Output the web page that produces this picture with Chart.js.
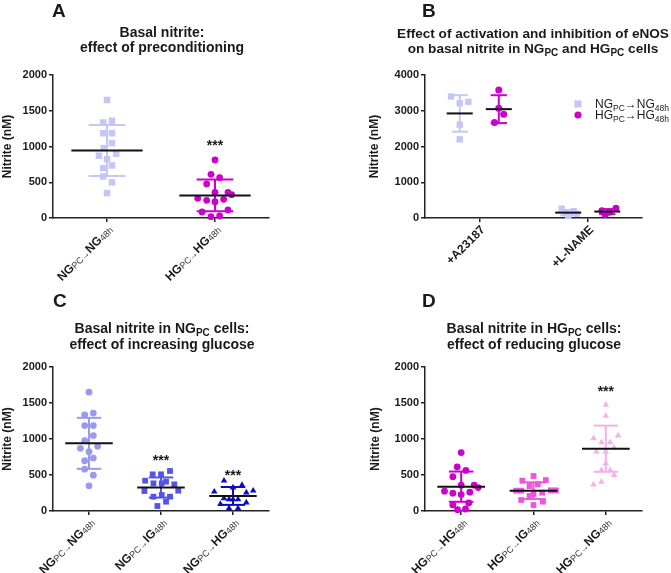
<!DOCTYPE html>
<html>
<head>
<meta charset="utf-8">
<script src="https://cdn.jsdelivr.net/npm/chart.js@4.4.1/dist/chart.umd.min.js"></script>
<style>
  html, body { margin:0; padding:0; background:#ffffff; }
  #fig { position:relative; width:671px; height:573px; overflow:hidden; background:#fff; }
  #fig canvas { position:absolute; }
</style>
</head>
<body>
<div id="fig">
  <canvas id="cA" width="336" height="288" style="left:0;top:0;width:336px;height:288px"></canvas>
  <canvas id="cB" width="335" height="288" style="left:336px;top:0;width:335px;height:288px"></canvas>
  <canvas id="cC" width="336" height="285" style="left:0;top:288px;width:336px;height:285px"></canvas>
  <canvas id="cD" width="335" height="285" style="left:336px;top:288px;width:335px;height:285px"></canvas>
</div>
<script>
// ================= DATA =================
const yTicks2000 = [0, 500, 1000, 1500, 2000];
const yTicks4000 = [0, 1000, 2000, 3000, 4000];

// ---- Panel A ----
const titleA = ['Basal nitrite:', 'effect of preconditioning'];
const catsA = ['NG_{PC\u2192}NG_{48h}', 'HG_{PC\u2192}HG_{48h}'];
const A_NG    = [1650, 1360, 1335, 1186, 1186, 1047, 977, 870, 898, 823, 735, 698, 581, 498, 349];
const A_NG_dx = [0, 0.046, -0.035, -0.035, 0.046, 0.046, -0.03, -0.075, 0.085, 0, 0.046, -0.035, -0.035, 0.046, 0];
const A_HG    = [811, 611, 564, 476, 359, 359, 326, 275, 247, 228, 261, 84, 112, 19, 28];
const A_HG_dx = [0, -0.037, 0.043, -0.077, 0, 0.12, 0.154, -0.16, -0.077, 0, 0.08, -0.12, 0.12, -0.037, 0.043];
const A_mean = [944, 316];
const A_sd   = [356, 222];
const A_sig  = ['', '***'];
const A_sigY = [null, 1045];

// ---- Panel B ----
const titleB = ['Effect of activation and inhibition of eNOS', 'on basal nitrite in NG_{PC} and HG_{PC} cells'];
const catsB = ['+A23187', '+L-NAME'];
const legendB = ['NG_{PC}\u2192NG_{48h}', 'HG_{PC}\u2192HG_{48h}'];
const B_NG_A23187    = [3400, 3210, 3250, 2610, 2200];
const B_NG_A23187_dx = [-0.08, 0, 0.08, 0, 0];
const B_HG_A23187    = [3580, 3070, 2900, 2670];
const B_HG_A23187_dx = [0, 0, 0.045, -0.04];
const B_NG_LNAME     = [260, 190, 150, 120, 60];
const B_NG_LNAME_dx  = [-0.06, 0.05, -0.02, 0.08, 0];
const B_HG_LNAME     = [270, 200, 160, 100];
const B_HG_LNAME_dx  = [0.08, -0.05, 0.02, -0.02];
const B_NG_mean = [2925, 150];
const B_NG_sd   = [510, 75];
const B_HG_mean = [3045, 180];
const B_HG_sd   = [390, 70];

// ---- Panel C ----
const titleC = ['Basal nitrite in NG_{PC} cells:', 'effect of increasing glucose'];
const catsC = ['NG_{PC\u2192}NG_{48h}', 'NG_{PC\u2192}IG_{48h}', 'NG_{PC\u2192}HG_{48h}'];
const C_NG    = [1650, 1360, 1335, 1186, 1186, 1047, 977, 870, 898, 823, 735, 698, 581, 498, 349];
const C_NG_dx = [0, 0.06, -0.06, -0.06, 0.06, 0.06, -0.06, -0.12, 0.12, 0, 0.06, -0.06, -0.06, 0.06, 0];
const C_IG    = [556, 509, 509, 421, 407, 384, 384, 370, 278, 282, 222, 199, 199, 130, 69];
const C_IG_dx = [0.125, -0.116, 0, -0.22, 0.07, -0.105, 0.01, 0.185, -0.23, 0.24, 0.01, -0.105, 0.125, 0.07, -0.05];
const C_HG    = [421, 361, 324, 268, 282, 255, 176, 162, 162, 162, 97, 116, 37, 37];
const C_HG_dx = [-0.125, 0.125, 0, -0.26, 0.28, 0.185, -0.125, -0.055, 0, 0.07, -0.175, 0.185, -0.055, 0.07];
const C_mean = [940, 326, 209];
const C_sd   = [354, 140, 124];
const C_sig  = ['', '***', '***'];
const C_sigY = [null, 736, 528];

// ---- Panel D ----
const titleD = ['Basal nitrite in HG_{PC} cells:', 'effect of reducing glucose'];
const catsD = ['HG_{PC\u2192}HG_{48h}', 'HG_{PC\u2192}IG_{48h}', 'HG_{PC\u2192}NG_{48h}'];
const D_HG    = [811, 611, 564, 476, 359, 359, 326, 275, 247, 228, 261, 84, 112, 19, 28];
const D_HG_dx = [0, -0.055, 0.065, -0.115, 0, 0.18, 0.235, -0.23, -0.115, 0, 0.12, -0.115, 0.105, -0.05, 0.06];
const D_IG    = [486, 421, 430, 347, 370, 282, 282, 287, 287, 236, 254, 208, 153, 130, 83];
const D_IG_dx = [0, -0.155, 0.17, -0.055, 0.06, -0.24, -0.17, 0.24, 0.31, 0, 0.12, -0.055, -0.17, 0.13, 0];
const D_NG    = [1474, 1321, 1009, 1047, 953, 953, 823, 823, 879, 660, 567, 567, 498, 367, 405];
const D_NG_dx = [0, 0, -0.17, 0.17, -0.06, 0.06, -0.13, 0, 0.115, 0, -0.06, 0.06, 0.115, -0.17, -0.06];
const D_mean = [338, 282, 865];
const D_sd   = [210, 116, 321];
const D_sig  = ['', '', '***'];
const D_sigY = [null, null, 1694];

// ================= STYLE =================
const FONT = '"Liberation Sans", Arial, Helvetica, sans-serif';
const INK = '#1a1a1a';
const COL = {
  lav: '#c4c6f6', mag: '#cc00cc', c1: '#9999ef', c2: '#5454e8', c3: '#0b0bc6',
  pink: '#ee55dc', lpink: '#f4b2ea'
};
Chart.defaults.font.family = FONT;

function parseRich(str, big, small, dy, smallColor) {
  const segs = []; const re = /_\{([^}]*)\}/g; let last = 0, m;
  while ((m = re.exec(str))) {
    if (m.index > last) segs.push({ t: str.slice(last, m.index), font: big, dy: 0 });
    segs.push({ t: m[1], font: small, dy: dy, color: smallColor });
    last = re.lastIndex;
  }
  if (last < str.length) segs.push({ t: str.slice(last), font: big, dy: 0 });
  return segs;
}
function richWidth(ctx, segs) {
  let w = 0; segs.forEach(s => { ctx.font = s.font; w += ctx.measureText(s.t).width; }); return w;
}
function drawRich(ctx, segs, x, y, align) {
  const w = richWidth(ctx, segs);
  let cx = align === 'center' ? x - w / 2 : (align === 'right' ? x - w : x);
  ctx.textAlign = 'left';
  segs.forEach(s => {
    ctx.font = s.font; ctx.fillStyle = s.color || INK;
    ctx.fillText(s.t, cx, y + s.dy);
    cx += ctx.measureText(s.t).width;
  });
}
function seg(ctx, x1, y1, x2, y2) { ctx.beginPath(); ctx.moveTo(x1, y1); ctx.lineTo(x2, y2); ctx.stroke(); }
function marker(ctx, style, x, y, r, color) {
  ctx.fillStyle = color; ctx.beginPath();
  if (style === 'rect') { const h = r; ctx.rect(x - h, y - h, 2 * h, 2 * h); }
  else ctx.arc(x, y, r, 0, Math.PI * 2);
  ctx.fill();
}

function decor(P) {
  return {
    id: 'decor_' + P.canvas,
    afterDatasetsDraw(chart) {
      const ctx = chart.ctx, xs = chart.scales.x, ys = chart.scales.y;
      const X = v => xs.getPixelForValue(v), Y = v => ys.getPixelForValue(v);
      ctx.save(); ctx.lineCap = 'butt';
      P.series.forEach(s => s.groups.forEach((g, gi) => {
        const c = g.cat + s.off, m = s.mean[gi], d = s.sd[gi];
        ctx.strokeStyle = s.color; ctx.lineWidth = 2;
        seg(ctx, X(c), Y(m - d), X(c), Y(m + d));
        seg(ctx, X(c - P.capHalf), Y(m + d), X(c + P.capHalf), Y(m + d));
        seg(ctx, X(c - P.capHalf), Y(m - d), X(c + P.capHalf), Y(m - d));
        ctx.strokeStyle = '#111'; ctx.lineWidth = 2;
        seg(ctx, X(c - P.meanHalf), Y(m), X(c + P.meanHalf), Y(m));
      }));
      ctx.restore();
    },
    afterDraw(chart) {
      const ctx = chart.ctx, xs = chart.scales.x, ys = chart.scales.y, ca = chart.chartArea;
      ctx.save();
      ctx.textBaseline = 'alphabetic';
      // panel letter
      ctx.font = 'bold 19px ' + FONT; ctx.fillStyle = INK; ctx.textAlign = 'left';
      ctx.fillText(P.letter, P.letterPos[0], P.letterPos[1]);
      // title
      P.title.forEach((line, i) => {
        drawRich(ctx, parseRich(line, 'bold ' + P.titleSize + 'px ' + FONT, 'bold 10px ' + FONT, 3), P.titleX, P.titleY[i], 'center');
      });
      // y title
      ctx.save();
      ctx.translate(ca.left - P.yTitleOff, (ca.top + ca.bottom) / 2);
      ctx.rotate(-Math.PI / 2);
      ctx.font = 'bold 12px ' + FONT; ctx.textAlign = 'center'; ctx.textBaseline = 'middle'; ctx.fillStyle = INK;
      ctx.fillText('Nitrite (nM)', 0, 0);
      ctx.restore();
      // x tick labels (rotated)
      P.cats.forEach((lab, i) => {
        const px = xs.getPixelForValue(i), py = ca.bottom;
        ctx.save();
        ctx.translate(px + 4, py + 10);
        ctx.rotate(-Math.PI / 4);
        ctx.textBaseline = 'middle';
        drawRich(ctx, parseRich(lab, 'bold 12px ' + FONT, '9px ' + FONT, 1.5, '#333'), 0, 0, 'right');
        ctx.restore();
      });
      // significance marks
      if (P.sig) P.sig.forEach((t, i) => {
        if (!t) return;
        ctx.font = 'bold 14px ' + FONT; ctx.textAlign = 'center'; ctx.textBaseline = 'middle'; ctx.fillStyle = INK;
        ctx.fillText(t, xs.getPixelForValue(i), ys.getPixelForValue(P.sigY[i]) + 3);
      });
      // legend
      if (P.legend) {
        P.legend.items.forEach((lab, i) => {
          const s = P.series[i];
          marker(ctx, s.style, P.legend.x, P.legend.ys[i], 3.6, s.color);
          ctx.textBaseline = 'alphabetic';
          drawRich(ctx, parseRich(lab, '12px ' + FONT, '8.5px ' + FONT, 3), P.legend.textX, P.legend.ys[i] + 4, 'left');
        });
      }
      ctx.restore();
    }
  };
}

function makePanel(P) {
  const canvas = document.getElementById(P.canvas);
  const W = canvas.width, H = canvas.height;
  const YW = 50, XH = 10;
  const datasets = P.series.map(s => ({
    type: 'scatter',
    data: s.groups.flatMap(g => g.vals.map((v, i) => ({ x: g.cat + s.off + g.dx[i], y: v }))),
    pointStyle: s.style, pointRadius: s.r, pointHoverRadius: s.r,
    backgroundColor: s.color, borderColor: s.color, borderWidth: 0, clip: false
  }));
  const axisCommon = {
    border: { display: true, color: '#222', width: 1.5 },
    grid: { display: true, drawOnChartArea: false, drawTicks: true, tickLength: 4, color: '#222', lineWidth: 1.5 }
  };
  return new Chart(canvas, {
    type: 'scatter',
    data: { datasets },
    options: {
      responsive: false, animation: false, events: [], devicePixelRatio: 1,
      layout: { padding: { left: P.area.l - YW, right: W - P.area.r, top: P.area.t, bottom: H - P.area.b - XH } },
      plugins: { legend: { display: false }, tooltip: { enabled: false } },
      scales: {
        x: Object.assign({
          type: 'linear', min: -0.5, max: P.cats.length - 0.5,
          afterBuildTicks: sc => { sc.ticks = P.cats.map((c, i) => ({ value: i })); },
          afterFit: sc => { sc.height = XH; },
          ticks: { display: false }
        }, axisCommon),
        y: Object.assign({
          type: 'linear', min: 0, max: P.yTicks[P.yTicks.length - 1],
          afterBuildTicks: sc => { sc.ticks = P.yTicks.map(v => ({ value: v })); },
          afterFit: sc => { sc.width = YW; },
          ticks: { font: { family: FONT, size: 11, weight: 'bold' }, color: INK, padding: 2, callback: v => String(v) }
        }, axisCommon)
      }
    },
    plugins: [decor(P)]
  });
}

makePanel({
  canvas: 'cA', area: { l: 53, r: 269, t: 75, b: 218 },
  letter: 'A', letterPos: [52, 17], title: titleA, titleX: 162, titleY: [37, 52], titleSize: 14,
  yTicks: yTicks2000, yTitleOff: 45, cats: catsA, meanHalf: 0.33, capHalf: 0.17,
  series: [
    { color: COL.lav, style: 'rect', r: 4.6, off: 0, groups: [{ cat: 0, vals: A_NG, dx: A_NG_dx }], mean: [A_mean[0]], sd: [A_sd[0]] },
    { color: COL.mag, style: 'circle', r: 3.4, off: 0, groups: [{ cat: 1, vals: A_HG, dx: A_HG_dx }], mean: [A_mean[1]], sd: [A_sd[1]] }
  ],
  sig: A_sig, sigY: A_sigY
});

makePanel({
  canvas: 'cB', area: { l: 89, r: 306, t: 75, b: 218 },
  letter: 'B', letterPos: [86, 17], title: titleB, titleX: 197, titleY: [38, 53], titleSize: 13.6,
  yTicks: yTicks4000, yTitleOff: 50, cats: catsB, meanHalf: 0.12, capHalf: 0.075,
  series: [
    { color: COL.lav, style: 'rect', r: 4.5, off: -0.18,
      groups: [{ cat: 0, vals: B_NG_A23187, dx: B_NG_A23187_dx }, { cat: 1, vals: B_NG_LNAME, dx: B_NG_LNAME_dx }],
      mean: B_NG_mean, sd: B_NG_sd },
    { color: COL.mag, style: 'circle', r: 3.5, off: 0.18,
      groups: [{ cat: 0, vals: B_HG_A23187, dx: B_HG_A23187_dx }, { cat: 1, vals: B_HG_LNAME, dx: B_HG_LNAME_dx }],
      mean: B_HG_mean, sd: B_HG_sd }
  ],
  legend: { items: legendB, x: 242, textX: 259, ys: [104, 115] }
});

makePanel({
  canvas: 'cC', area: { l: 53, r: 269, t: 79, b: 223 },
  letter: 'C', letterPos: [53, 19], title: titleC, titleX: 162, titleY: [45, 61], titleSize: 14,
  yTicks: yTicks2000, yTitleOff: 45, cats: catsC, meanHalf: 0.33, capHalf: 0.17,
  series: [
    { color: COL.c1, style: 'circle', r: 3.4, off: 0, groups: [{ cat: 0, vals: C_NG, dx: C_NG_dx }], mean: [C_mean[0]], sd: [C_sd[0]] },
    { color: COL.c2, style: 'rect', r: 4.1, off: 0, groups: [{ cat: 1, vals: C_IG, dx: C_IG_dx }], mean: [C_mean[1]], sd: [C_sd[1]] },
    { color: COL.c3, style: 'triangle', r: 3.8, off: 0, groups: [{ cat: 2, vals: C_HG, dx: C_HG_dx }], mean: [C_mean[2]], sd: [C_sd[2]] }
  ],
  sig: C_sig, sigY: C_sigY
});

makePanel({
  canvas: 'cD', area: { l: 89, r: 306, t: 79, b: 223 },
  letter: 'D', letterPos: [86, 19], title: titleD, titleX: 198, titleY: [45, 61], titleSize: 14,
  yTicks: yTicks2000, yTitleOff: 49, cats: catsD, meanHalf: 0.33, capHalf: 0.17,
  series: [
    { color: COL.mag, style: 'circle', r: 3.4, off: 0, groups: [{ cat: 0, vals: D_HG, dx: D_HG_dx }], mean: [D_mean[0]], sd: [D_sd[0]] },
    { color: COL.pink, style: 'rect', r: 4.1, off: 0, groups: [{ cat: 1, vals: D_IG, dx: D_IG_dx }], mean: [D_mean[1]], sd: [D_sd[1]] },
    { color: COL.lpink, style: 'triangle', r: 3.8, off: 0, groups: [{ cat: 2, vals: D_NG, dx: D_NG_dx }], mean: [D_mean[2]], sd: [D_sd[2]] }
  ],
  sig: D_sig, sigY: D_sigY
});
</script>
</body>
</html>
